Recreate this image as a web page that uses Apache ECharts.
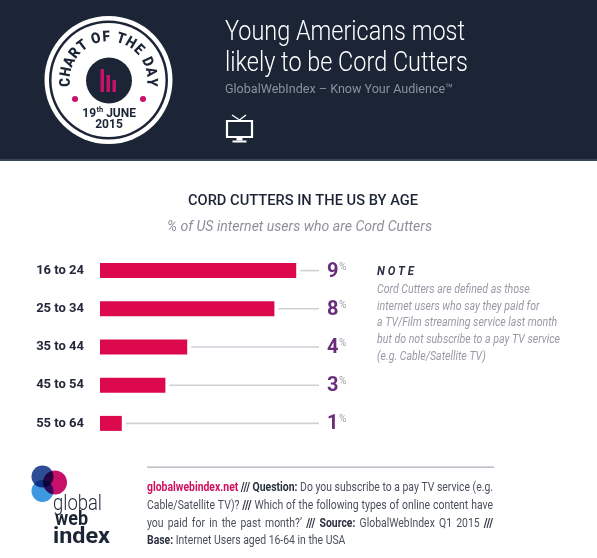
<!DOCTYPE html>
<html><head><meta charset="utf-8">
<script src="https://cdn.jsdelivr.net/npm/echarts@6/dist/echarts.min.js"></script>
<style>html,body{margin:0;padding:0;background:#fff}#c{width:597px;height:558px}</style>
</head><body><div id="c"></div>
<script>
// ---- data ----
const categories = ['16 to 24', '25 to 34', '35 to 44', '45 to 54', '55 to 64'];
const values = [9, 8, 4, 3, 1];
const axisMax = 10;
const titleLines = ['Young Americans most', 'likely to be Cord Cutters'];
const headerSub = 'GlobalWebIndex \u2013 Know Your Audience\u2122';
const chartTitle = 'CORD CUTTERS IN THE US BY AGE';
const chartSubtitle = '% of US internet users who are Cord Cutters';
const noteTitle = 'NOTE';
const noteLines = ['Cord Cutters are defined as those', 'internet users who say they paid for',
  'a TV/Film streaming service last month', 'but do not subscribe to a pay TV service', '(e.g. Cable/Satellite TV)'];
const badgeText = 'CHART OF THE DAY';
const footerLines = [
  [['globalwebindex.net', 'pink'], ['///', 'b'], ['Question:', 'b'], ['Do you subscribe to a pay TV service (e.g.', 'n']],
  [['Cable/Satellite TV)?', 'n'], ['///', 'b'], ['Which of the following types of online content have', 'n']],
  [['you paid for in the past month?\u2019', 'n'], ['/// Source:', 'b'], ['GlobalWebIndex Q1 2015', 'n'], ['///', 'b']],
  [['Base:', 'b'], ['Internet Users aged 16-64 in the USA', 'n']]
];

// ---- helpers ----
const FF = 'Roboto';
const DARK = '#1b2535';
const ctx = document.createElement('canvas').getContext('2d');
function tw(text, font) { ctx.font = font; return ctx.measureText(text).width; }
function fitText(text, x, y, font, fill, width, align, extra) {
  const k = width ? width / tw(text, font) : 1;
  return Object.assign({
    type: 'text', x: x, y: y, scaleX: k,
    style: { text: text, x: 0, y: 0, font: font, fill: fill, align: align || 'left', verticalAlign: 'middle' }
  }, extra || {});
}

const g = [];
// header
g.push({ type: 'rect', shape: { x: 0, y: 0, width: 597, height: 161 }, style: { fill: DARK } });
g.push({ type: 'rect', shape: { x: 0, y: 159, width: 597, height: 2 }, style: { fill: '#3a4556' } });
// badge
const bcx = 108.5, bcy = 80;
g.push({ type: 'circle', shape: { cx: bcx, cy: bcy, r: 64 }, style: { fill: '#fff' } });
g.push({ type: 'circle', shape: { cx: bcx, cy: bcy, r: 59.5 }, style: { fill: DARK } });
g.push({ type: 'circle', shape: { cx: bcx, cy: bcy, r: 57 }, style: { fill: '#fff' } });
g.push({ type: 'circle', shape: { cx: 109, cy: 80.5, r: 23 }, style: { fill: DARK } });
g.push({ type: 'rect', shape: { x: 100.5, y: 69, width: 3.5, height: 23 }, style: { fill: '#c8106a' } });
g.push({ type: 'rect', shape: { x: 106.5, y: 75, width: 3.5, height: 17 }, style: { fill: '#c8106a' } });
g.push({ type: 'rect', shape: { x: 112.5, y: 80, width: 3.5, height: 12 }, style: { fill: '#c8106a' } });
g.push({ type: 'circle', shape: { cx: 75, cy: 99, r: 3 }, style: { fill: '#c8106a' } });
g.push({ type: 'circle', shape: { cx: 143, cy: 99, r: 3 }, style: { fill: '#c8106a' } });
(function () {
  const chars = badgeText.split('');
  const w = chars.map(c => c === ' ' ? 0.45 : 1);
  const centers = []; let acc = 0;
  w.forEach((wi, i) => { centers.push(acc + wi / 2); acc += wi; });
  const c0 = centers[0], c1 = centers[centers.length - 1];
  const a0 = 183 * Math.PI / 180, a1 = -3 * Math.PI / 180, r = 42.5;
  chars.forEach((ch, i) => {
    if (ch === ' ') return;
    const t = (centers[i] - c0) / (c1 - c0);
    const a = a0 + (a1 - a0) * t;
    g.push({ type: 'text', x: bcx + r * Math.cos(a), y: bcy - r * Math.sin(a), rotation: a - Math.PI / 2, scaleX: 0.9,
      style: { text: ch, x: 0, y: 0, font: '900 15px ' + FF, fill: DARK, align: 'center', verticalAlign: 'middle' } });
  });
})();
(function () {
  const f1 = 'bold 12px ' + FF, f2 = 'bold 7.5px ' + FF;
  const w1 = tw('19', f1), w2 = tw('th', f2), w3 = tw(' JUNE', f1);
  let x = 109 - (w1 + w2 + w3) / 2;
  g.push({ type: 'text', style: { text: '19', x: x, y: 113.5, font: f1, fill: DARK, verticalAlign: 'middle' } });
  g.push({ type: 'text', style: { text: 'th', x: x + w1 + 0.3, y: 110.5, font: f2, fill: DARK, verticalAlign: 'middle' } });
  g.push({ type: 'text', style: { text: ' JUNE', x: x + w1 + w2 + 0.3, y: 113.5, font: f1, fill: DARK, verticalAlign: 'middle' } });
  g.push({ type: 'text', style: { text: '2015', x: 109, y: 125, font: f1, fill: DARK, align: 'center', verticalAlign: 'middle' } });
})();
// titles
g.push(fitText(titleLines[0], 225, 33, '300 27px ' + FF, '#ffffff', 240));
g.push(fitText(titleLines[1], 225, 64, '300 27px ' + FF, '#ffffff', 243));
g.push(fitText(headerSub, 225, 90, '13px ' + FF, '#8a919c', 228));
// tv icon
g.push({ type: 'rect', shape: { x: 227, y: 121, width: 25, height: 16 }, style: { fill: 'none', stroke: '#fff', lineWidth: 2.2 } });
g.push({ type: 'polyline', shape: { points: [[232, 115], [239.5, 120], [246, 115]] }, style: { fill: 'none', stroke: '#fff', lineWidth: 1.4 } });
g.push({ type: 'rect', shape: { x: 236.5, y: 138, width: 6, height: 2.5 }, style: { fill: '#fff' } });
g.push({ type: 'rect', shape: { x: 232.5, y: 140.5, width: 14, height: 2 }, style: { fill: '#fff' } });
// chart titles
g.push(fitText(chartTitle, 303, 201, '500 15px ' + FF, DARK, 230, 'center'));
g.push(fitText(chartSubtitle, 299.5, 227, 'italic 14px ' + FF, '#8f8f9c', 265, 'center'));
// note
(function () {
  const f = 'italic 12px ' + FF;
  const k = 183 / tw(noteLines[3], f);
  g.push(fitText('N O T E', 377, 272, 'italic bold 12px ' + FF, '#2a3040', 37));
  noteLines.forEach((ln, i) => {
    g.push({ type: 'text', x: 377, y: 290 + i * 16.7, scaleX: k, style: { text: ln, x: 0, y: 0, font: f, fill: '#9a9aa6', verticalAlign: 'middle' } });
  });
})();
// footer
g.push({ type: 'rect', shape: { x: 147, y: 466.5, width: 347, height: 1.2 }, style: { fill: '#aab0b8' } });
(function () {
  const fonts = { n: '13px ' + FF, b: 'bold 13px ' + FF, pink: 'bold 13px ' + FF };
  const cols = { n: '#4a505c', b: '#2a3040', pink: '#d0105f' };
  const x0 = 147, x1 = 493;
  const sp = tw(' ', fonts.n);
  const lineWords = footerLines.map(line => {
    const words = [];
    line.forEach(([txt, st]) => txt.split(' ').forEach(wd => words.push({ t: wd, st: st, w: tw(wd, fonts[st]) })));
    return words;
  });
  const nat0 = lineWords[0].reduce((s, w) => s + w.w, 0) + sp * (lineWords[0].length - 1);
  const k = (x1 - x0) / nat0;
  lineWords.forEach((words, li) => {
    const y = 488 + li * 17.7;
    const sum = words.reduce((s, w) => s + w.w * k, 0);
    const gap = li < lineWords.length - 1 ? (x1 - x0 - sum) / (words.length - 1) : sp * k;
    let x = x0;
    words.forEach(w => {
      g.push({ type: 'text', x: x, y: y, scaleX: k, style: { text: w.t, x: 0, y: 0, font: fonts[w.st], fill: cols[w.st], verticalAlign: 'middle' } });
      x += w.w * k + gap;
    });
  });
})();
// logo
g.push({ type: 'circle', shape: { cx: 42.5, cy: 476.5, r: 11 }, style: { fill: '#2d4e96' } });
g.push({ type: 'circle', shape: { cx: 42.5, cy: 491, r: 11 }, style: { fill: '#3d98e0', blend: 'multiply' } });
g.push({ type: 'circle', shape: { cx: 55, cy: 482.5, r: 12 }, style: { fill: '#c8106a', blend: 'multiply' } });
g.push(fitText('global', 53, 504, '300 22px ' + FF, DARK, 49));
g.push(fitText('web', 55, 520, 'bold 20px ' + FF, DARK, 33));
g.push(fitText('index', 53, 537, 'bold 22px ' + FF, DARK, 57));

// ---- chart ----
const chart = echarts.init(document.getElementById('c'), null, { renderer: 'canvas' });
chart.setOption({
  animation: false,
  grid: { left: 100, width: 218, top: 251.5, height: 191 },
  xAxis: { type: 'value', min: 0, max: axisMax, show: false },
  yAxis: {
    type: 'category', data: categories, inverse: true,
    axisLine: { show: false }, axisTick: { show: false },
    axisLabel: { margin: 16, color: '#23293a', fontFamily: FF, fontWeight: 'bold', fontSize: 13 }
  },
  graphic: g,
  series: [
    {
      type: 'bar', data: values, barWidth: 15, itemStyle: { color: '#dc094c' }, z: 3
    },
    {
      type: 'custom', z: 2,
      data: values.map((v, i) => [v, i]),
      encode: { x: 0, y: 1 },
      renderItem: function (params, api) {
        const v = api.value(0), i = api.value(1);
        const p = api.coord([v, i]);
        const e = api.coord([axisMax, i]);
        const digitFont = 'bold 20px ' + FF;
        const dw = tw(String(v), digitFont);
        return {
          type: 'group', children: [
            { type: 'line', shape: { x1: p[0] + 4, y1: p[1], x2: e[0] + 1, y2: p[1] }, style: { stroke: '#cdd1d6', lineWidth: 1.6 } },
            { type: 'text', style: { text: String(v), x: e[0] + 9, y: p[1] + 1, font: digitFont, fill: '#6a2d7c', verticalAlign: 'middle' } },
            { type: 'text', style: { text: '%', x: e[0] + 9 + dw + 0.5, y: p[1] - 3.5, font: '10px ' + FF, fill: '#a0a0a8', verticalAlign: 'middle' } }
          ]
        };
      }
    }
  ]
});
</script></body></html>
